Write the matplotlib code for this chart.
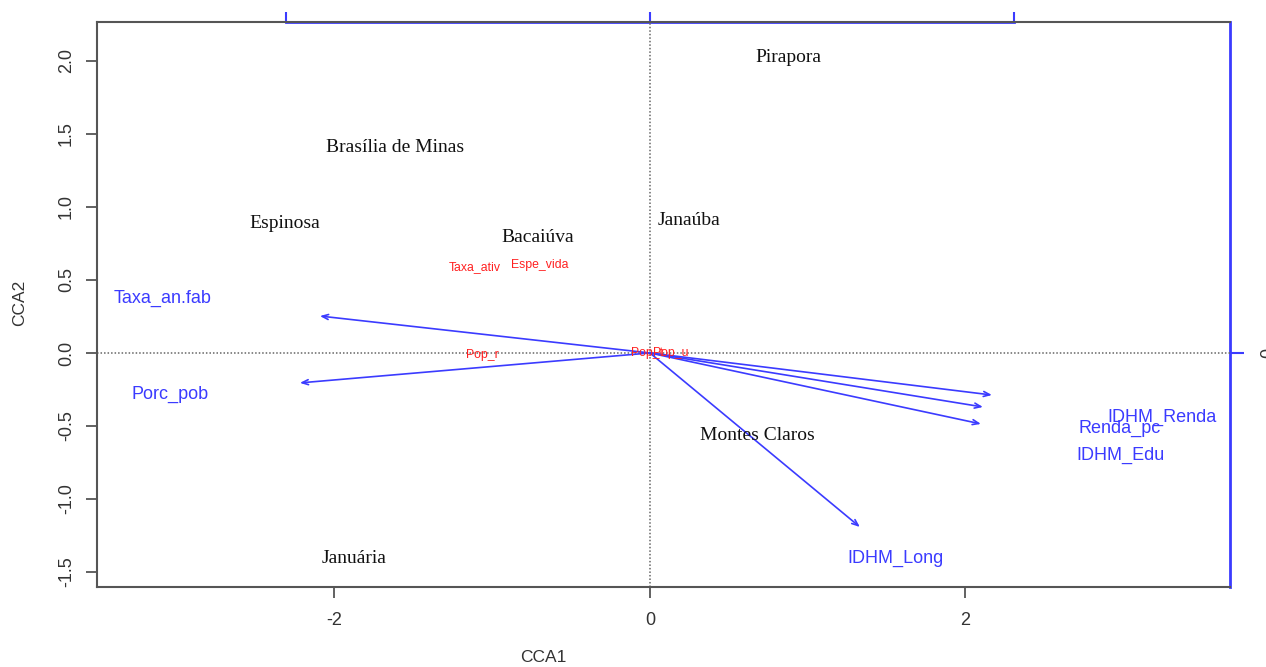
import matplotlib.pyplot as plt

plt.rcParams['font.family'] = ['Liberation Sans', 'DejaVu Sans']

# sites (black, serif)
sites = ["Pirapora", "Brasília de Minas", "Espinosa", "Bacaiúva", "Janaúba",
         "Montes Claros", "Januária"]
site_x = [0.875, -1.616, -2.314, -0.710, 0.247, 0.678, -1.873]
site_y = [2.021, 1.404, 0.884, 0.788, 0.904, -0.562, -1.410]

# environmental arrows (blue) - tip positions and label positions
env_vars = ["Taxa_an.fab", "Porc_pob", "IDHM_Renda", "Renda_pc", "IDHM_Edu", "IDHM_Long"]
arrow_x = [-2.092, -2.219, 2.168, 2.111, 2.098, 1.331]
arrow_y = [0.253, -0.205, -0.288, -0.370, -0.486, -1.192]
env_lab_x = [-3.087, -3.043, 3.246, 2.980, 2.986, 1.559]
env_lab_y = [0.377, -0.281, -0.438, -0.520, -0.705, -1.410]

# species scores (red)
species = ["Taxa_ativ", "Espe_vida", "Pop_r", "Pop_t", "Pop_u"]
sp_x = [-1.109, -0.697, -1.065, -0.019, 0.133]
sp_y = [0.589, 0.603, -0.014, 0.0, 0.0]

blue = "#3b3bff"
red = "#ff2020"
grey = "#555555"
k = 2.31  # arrow scale vs main scale

fig = plt.figure(figsize=(12.66, 6.67), dpi=100)
ax = fig.add_axes([97/1266, 1-587/667, (1230-97)/1266, (587-22)/667])
ax.set_xlim(-3.505, 3.677)
ax.set_ylim(-1.603, 2.267)

ax.axhline(0, color="#666666", lw=1.1, ls=(0, (1, 1.3)), zorder=1)
ax.axvline(0, color="#666666", lw=1.1, ls=(0, (1, 1.3)), zorder=1)

for x, y in zip(arrow_x, arrow_y):
    ax.annotate("", xy=(x, y), xytext=(0, 0),
                arrowprops=dict(arrowstyle="->,head_length=0.45,head_width=0.18",
                                color=blue, lw=1.2, shrinkA=0, shrinkB=0))

for name, x, y in zip(env_vars, env_lab_x, env_lab_y):
    ax.text(x, y, name, color=blue, fontsize=13, ha="center", va="center")

for name, x, y in zip(species, sp_x, sp_y):
    ax.text(x, y, name, color=red, fontsize=8.8, ha="center", va="center")

for name, x, y in zip(sites, site_x, site_y):
    ax.text(x, y, name, color="#111111", fontsize=14, ha="center", va="center",
            family="Liberation Serif")

ax.set_xticks([-2, 0, 2])
ax.set_xticklabels(["-2", "0", "2"])
ax.set_yticks([-1.5, -1.0, -0.5, 0.0, 0.5, 1.0, 1.5, 2.0])
ax.set_yticklabels(["-1.5", "-1.0", "-0.5", "0.0", "0.5", "1.0", "1.5", "2.0"])
for lab in ax.get_yticklabels():
    lab.set_rotation(90)
    lab.set_va("center")
ax.tick_params(axis="both", length=8, width=1.3, color=grey, labelsize=13,
               labelcolor="#333333", pad=8)
ax.tick_params(axis="x", pad=10)

for s in ["left", "bottom", "top"]:
    ax.spines[s].set_color(grey)
    ax.spines[s].set_linewidth(1.5)
ax.spines["right"].set_visible(False)

# secondary axes for arrow scale (blue)
secx = ax.secondary_xaxis("top", functions=(lambda v: v / k, lambda v: v * k))
secx.set_xticks([-1, 0, 1])
secx.tick_params(axis="x", length=7, width=1.5, color=blue, labeltop=False)
secx.spines["top"].set_color(blue)
secx.spines["top"].set_linewidth(2)
secx.spines["top"].set_bounds(-1, 1)

secy = ax.secondary_yaxis("right", functions=(lambda v: v / k, lambda v: v * k))
secy.set_yticks([0])
secy.set_yticklabels(["0"])
for lab in secy.get_yticklabels():
    lab.set_rotation(90)
    lab.set_va("center")
secy.tick_params(axis="y", length=10, width=1.5, color=blue, labelsize=13,
                 labelcolor="#333333", pad=12)
secy.spines["right"].set_color(blue)
secy.spines["right"].set_linewidth(2)

fig.text(543/1266, 1-658/667, "CCA1", fontsize=12.5, color="#333333",
         ha="center", va="center")
fig.text(20/1266, 1-303/667, "CCA2", fontsize=12.5, color="#333333",
         ha="center", va="center", rotation=90)

fig.savefig("out.png", dpi=100)
